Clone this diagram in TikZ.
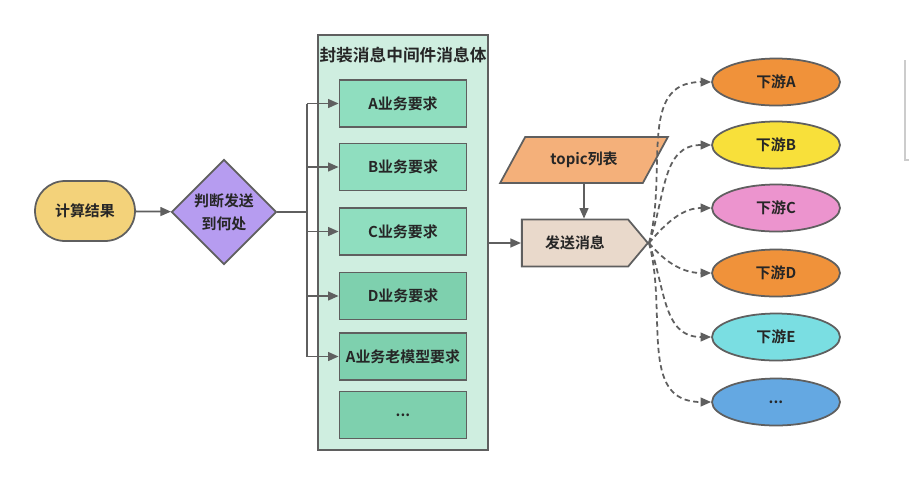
\documentclass[tikz,border=0pt]{standalone}
\usepackage{fontspec}
\setmainfont{Noto Sans CJK SC}[BoldFont={Noto Sans CJK SC Bold}]
\usetikzlibrary{arrows.meta,shapes.geometric,shapes.symbols}

\definecolor{linegray}{RGB}{95,95,95}
\definecolor{calcfill}{RGB}{243,210,122}
\definecolor{judgefill}{RGB}{182,156,240}
\definecolor{bodyfill}{RGB}{207,238,224}
\definecolor{reqlight}{RGB}{143,222,191}
\definecolor{reqdark}{RGB}{126,208,174}
\definecolor{topicfill}{RGB}{244,176,122}
\definecolor{sendfill}{RGB}{233,217,203}
\definecolor{dsorange}{RGB}{240,146,58}
\definecolor{dsyellow}{RGB}{248,224,58}
\definecolor{dspink}{RGB}{236,148,206}
\definecolor{dscyan}{RGB}{122,222,226}
\definecolor{dsblue}{RGB}{100,168,226}

\tikzset{
  shape box/.style={draw=linegray, line width=1pt, text=black!85, inner sep=0pt,
    font=\bfseries\fontsize{8.5}{13}\selectfont},
  startbox/.style={shape box, rectangle, rounded corners=0.6cm, minimum width=2cm, minimum height=1.2cm},
  judgebox/.style={shape box, diamond, minimum width=2.1cm, minimum height=2.1cm, align=center},
  bodybox/.style={shape box, rectangle, fill=bodyfill, minimum width=3.4cm, minimum height=8.3cm},
  reqbox/.style={shape box, rectangle, minimum width=2.54cm, minimum height=0.94cm},
  topicbox/.style={shape box, trapezium, trapezium left angle=48, trapezium right angle=132,
    trapezium stretches=true, minimum width=3.36cm, minimum height=0.92cm, fill=topicfill},
  sendbox/.style={shape box, signal, signal to=east, signal pointer angle=100,
    minimum width=2.52cm, minimum height=0.94cm, fill=sendfill},
  downbox/.style={shape box, ellipse, minimum width=2.56cm, minimum height=0.94cm},
  wire/.style={draw=linegray, line width=1pt},
  flow/.style={wire, -{Triangle[length=6pt,width=5pt]}},
  pushline/.style={flow, dash pattern=on 3pt off 2pt},
}

\begin{document}
\begin{tikzpicture}[x=0.02cm, y=-0.02cm]
\fill[white] (0,0) rectangle (909,495);
\useasboundingbox (0,0) rectangle (909,495);

% left part
\node[startbox, fill=calcfill] (calc) at (85,211) {计算结果};
\node[judgebox, fill=judgefill] (judge) at (224,212) {判断发送\\到何处};
\draw[flow] (calc) -- (judge);

% message body
\node[bodybox] (body) at (403,242.5) {};
\node[font=\bfseries\fontsize{9.5}{11}\selectfont, text=black!85] (bodytitle) at (403,55) {封装消息中间件消息体};
\node[reqbox, fill=reqlight] (reqA) at (403,103.5) {A业务要求};
\node[reqbox, fill=reqlight] (reqB) at (403,167) {B业务要求};
\node[reqbox, fill=reqlight] (reqC) at (403,231.5) {C业务要求};
\node[reqbox, fill=reqdark] (reqD) at (403,296) {D业务要求};
\node[reqbox, fill=reqdark] (reqOld) at (403,356.5) {A业务老模型要求};
\node[reqbox, fill=reqdark] (reqMore) at (403,415) {...};

\coordinate (bus) at (307,212);
\draw[wire] (judge.east) -- (bus);
\draw[wire] (bus |- reqA.west) -- (bus |- reqOld.west);
\foreach \r in {reqA,reqB,reqC,reqD,reqOld}
  \draw[flow] (bus |- \r.west) -- (\r.west);

% sending
\node[topicbox] (topic) at (584,160) {topic列表};
\node[sendbox] (send) at (575,243) {发送消息};
\draw[flow] (topic.south) -- (topic.south |- send.north);
\draw[flow] (body.east |- send.west) -- (send.west);

% downstream
\node[downbox, fill=dsorange] (dsA) at (776,82) {下游A};
\node[downbox, fill=dsyellow] (dsB) at (776,145) {下游B};
\node[downbox, fill=dspink] (dsC) at (776,208) {下游C};
\node[downbox, fill=dsorange] (dsD) at (776,273) {下游D};
\node[downbox, fill=dscyan] (dsE) at (776,337) {下游E};
\node[downbox, fill=dsblue] (dsMore) at (776,402) {...};

\draw[pushline] (send.east) to[out=75, in=180, looseness=1.1] (dsA.west);
\draw[pushline] (send.east) to[out=70, in=180, looseness=1.1] (dsB.west);
\draw[pushline] (send.east) to[out=50, in=180] (dsC.west);
\draw[pushline] (send.east) to[out=-50, in=180] (dsD.west);
\draw[pushline] (send.east) to[out=-70, in=180, looseness=1.1] (dsE.west);
\draw[pushline] (send.east) to[out=-75, in=180, looseness=1.1] (dsMore.west);

% frame edge at the right
\draw[black!20, line width=0.8pt] (905,60) -- (905,160) -- (909,160);
\end{tikzpicture}
\end{document}
